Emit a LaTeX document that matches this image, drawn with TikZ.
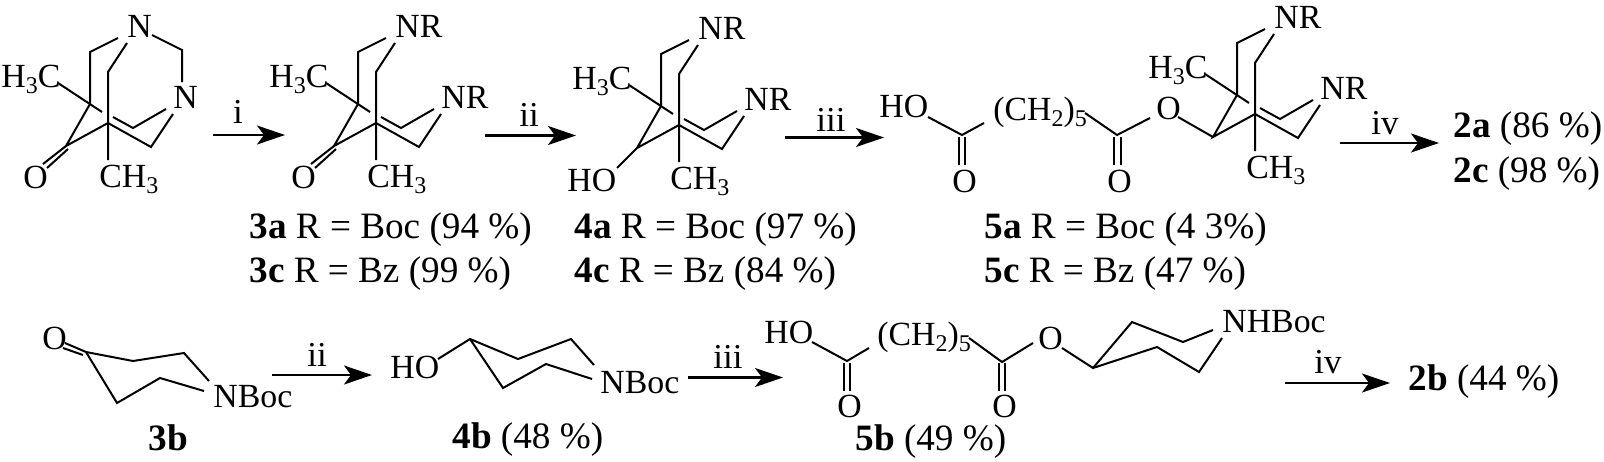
\documentclass[tikz,border=0pt]{standalone}
\usepackage{fontspec}
\setmainfont{Liberation Serif}
\usetikzlibrary{arrows.meta}
\usetikzlibrary{positioning}

\newcommand{\dn}[1]{\raisebox{-3pt}{\fontsize{12}{12}\selectfont #1}}

\tikzset{
  atom/.style={inner sep=0pt, anchor=base west, font=\fontsize{16.9}{20}\selectfont},
  reagent/.style={inner sep=0pt, anchor=base, font=\fontsize{17.5}{20}\selectfont},
  cmpd/.style={inner sep=0pt, anchor=base west, font=\fontsize{18.6}{22}\selectfont},
  bond/.style={line width=1pt, line join=miter},
  rxn/.style={line width=1.05pt, -{Stealth[length=14pt,width=9.5pt,inset=3.5pt]}}
}

\newcommand{\cagecore}[5]{
        \begin{scope}[shift={(#2,#3)}, name prefix=#1-]
        \node[atom] (top) at (37,-67) {#4};
        \node[atom] (right) at (83,4) {#5};
        \node[atom] (me1) at (-89,-17) {H\dn{3}C};
        \node[atom] (me2) at (9,83) {CH\dn{3}};
        \coordinate (b1) at (0,0);
        \coordinate (b2) at (18,19);
        \coordinate (k) at (-24,42);
        \coordinate (a1) at (28,-66);
        \coordinate (a2) at (0,-52);
        \coordinate (a3) at (37,-61);
        \coordinate (a4) at (18,-32);
        \coordinate (m1) at (-32,-21);
        \coordinate (m2) at (12,8);
        \coordinate (m3) at (18,56);
        \coordinate (e1) at (61,43);
        \coordinate (e2) at (83,10);
        \coordinate (g1) at (23,13);
        \coordinate (g2) at (43,24);
        \coordinate (g3) at (76,5);
        \draw[bond] (a1) -- (a2) -- (b1) -- (k) -- (b2) -- (e1) -- (e2);
        \draw[bond] (a3) -- (a4) -- (m3);
        \draw[bond] (m1) -- (m2);
        \draw[bond] (g1) -- (g2) -- (g3);
        \end{scope}
}

\begin{document}
\begin{tikzpicture}[x=0.5pt, y=-0.5pt]
        \useasboundingbox (0,0) rectangle (1604,461);

        \cagecore{c1}{90}{104}{N}{N}
        \node[atom] (o1) at (23,188) {O};
        \coordinate (w1) at (152,35);
        \coordinate (w2) at (182,50);
        \coordinate (w3) at (182,82);
        \coordinate (o1a) at (43,164);
        \coordinate (o1b) at (47,168);
        \coordinate (k1b) at (68,149);
        \draw[bond] (w1) -- (w2) -- (w3);
        \draw[bond] (c1-k) -- (o1a);
        \draw[bond] (k1b) -- (o1b);

        \coordinate (r1s) at (213,135);
        \coordinate (r1e) at (285,135);
        \path [rxn] (r1s) edge (r1e);
        \node[reagent] (l1) at (238,123) {i};

        \cagecore{c2}{358}{104}{NR}{NR}
        \node[atom] (o2) at (291,188) {O};
        \coordinate (o2a) at (311,164);
        \coordinate (o2b) at (315,168);
        \coordinate (k2b) at (336,149);
        \draw[bond] (c2-k) -- (o2a);
        \draw[bond] (k2b) -- (o2b);
        \node[cmpd] (t3a) at (249,238) {\textbf{3a} R = Boc (94 \%)};
        \node[cmpd] (t3c) at (249,282) {\textbf{3c} R = Bz (99 \%)};

        \coordinate (r2s) at (485,135.5);
        \coordinate (r2e) at (576,135.5);
        \path [rxn] (r2s) edge (r2e);
        \node[reagent] (l2) at (529,126) {ii};

        \cagecore{c3}{661}{106}{NR}{NR}
        \node[atom] (h3) at (567,191) {HO};
        \coordinate (h3a) at (617,168);
        \draw[bond] (c3-k) -- (h3a);
        \node[cmpd] (t4a) at (574,238) {\textbf{4a} R = Boc (97 \%)};
        \node[cmpd] (t4c) at (574,282) {\textbf{4c} R = Bz (84 \%)};

        \coordinate (r3s) at (785,137.5);
        \coordinate (r3e) at (884,137.5);
        \path [rxn] (r3s) edge (r3e);
        \node[reagent] (l3) at (831,131) {iii};

        \node[atom] (h5) at (879,117) {HO};
        \node[atom] (ch5) at (993,120) {(CH\dn{2})\dn{5}};
        \node[atom] (o5a) at (952,192) {O};
        \node[atom] (o5b) at (1107,192) {O};
        \node[atom] (o5c) at (1156,119) {O};
        \coordinate (p1) at (928,117);
        \coordinate (p2) at (962,135);
        \coordinate (p3) at (984,123);
        \coordinate (p4) at (1085,113);
        \coordinate (p5) at (1117,135);
        \coordinate (p6) at (1150,118);
        \coordinate (p7) at (1178,117);
        \coordinate (d1) at (958.5,137);
        \coordinate (d2) at (958.5,165);
        \coordinate (d3) at (965,137);
        \coordinate (d4) at (965,165);
        \coordinate (d5) at (1114,137);
        \coordinate (d6) at (1114,165);
        \coordinate (d7) at (1120.5,137);
        \coordinate (d8) at (1120.5,165);
        \draw[bond] (p1) -- (p2) -- (p3);
        \draw[bond] (p4) -- (p5) -- (p6);
        \draw[bond] (d1) -- (d2);
        \draw[bond] (d3) -- (d4);
        \draw[bond] (d5) -- (d6);
        \draw[bond] (d7) -- (d8);
        \cagecore{c5}{1237}{95}{NR}{NR}
        \draw[bond] (p7) -- (c5-k);
        \node[cmpd] (t5a) at (984,238) {\textbf{5a} R = Boc (4 3\%)};
        \node[cmpd] (t5c) at (984,282) {\textbf{5c} R = Bz (47 \%)};

        \coordinate (r4s) at (1340,143);
        \coordinate (r4e) at (1439,143);
        \path [rxn] (r4s) edge (r4e);
        \node[reagent] (l4) at (1385,134) {iv};
        \node[cmpd] (t2a) at (1453,137) {\textbf{2a} (86 \%)};
        \node[cmpd] (t2c) at (1453,182) {\textbf{2c} (98 \%)};

        \node[atom] (o6) at (42,349) {O};
        \node[atom] (boc6) at (213,407) {NBoc};
        \coordinate (q0) at (65,343);
        \coordinate (q1) at (86,352);
        \coordinate (q2) at (133,361);
        \coordinate (q3) at (184,353);
        \coordinate (q4) at (209,381);
        \coordinate (q5) at (117,403);
        \coordinate (q6) at (160,378);
        \coordinate (q7) at (204,391);
        \coordinate (q8) at (63,348);
        \coordinate (q9) at (83,355);
        \draw[bond] (q0) -- (q1) -- (q2) -- (q3) -- (q4);
        \draw[bond] (q1) -- (q5) -- (q6) -- (q7);
        \draw[bond] (q8) -- (q9);
        \node[cmpd] (t3b) at (148,450) {\textbf{3b}};

        \coordinate (r5s) at (272,375);
        \coordinate (r5e) at (372,375);
        \path [rxn] (r5s) edge (r5e);
        \node[reagent] (l5) at (317,366) {ii};

        \node[atom] (h7) at (390,378) {HO};
        \node[atom] (boc7) at (600,393) {NBoc};
        \coordinate (u0) at (438,359);
        \coordinate (u1) at (470,339);
        \coordinate (u2) at (518,359);
        \coordinate (u3) at (571,339);
        \coordinate (u4) at (594,365);
        \coordinate (u5) at (503,388);
        \coordinate (u6) at (546,364);
        \coordinate (u7) at (592,379);
        \draw[bond] (u0) -- (u1) -- (u2) -- (u3) -- (u4);
        \draw[bond] (u1) -- (u5) -- (u6) -- (u7);
        \node[cmpd] (t4b) at (452,448) {\textbf{4b} (48 \%)};

        \coordinate (r6s) at (688,377.5);
        \coordinate (r6e) at (783,377.5);
        \path [rxn] (r6s) edge (r6e);
        \node[reagent] (l6) at (728,368) {iii};

        \node[atom] (h8) at (764,343) {HO};
        \node[atom] (ch8) at (877,345) {(CH\dn{2})\dn{5}};
        \node[atom] (o8a) at (837,417) {O};
        \node[atom] (o8b) at (992,417) {O};
        \node[atom] (o8c) at (1038,349) {O};
        \node[atom] (nh8) at (1222,332) {NHBoc};
        \coordinate (s1) at (812,342);
        \coordinate (s2) at (847,361);
        \coordinate (s3) at (869,348);
        \coordinate (s4) at (969,338);
        \coordinate (s5) at (1002,362);
        \coordinate (s6) at (1033,343);
        \coordinate (s7) at (1062,348);
        \coordinate (s8) at (1093,368);
        \coordinate (f1) at (1132,322);
        \coordinate (f2) at (1183,342);
        \coordinate (f3) at (1213,330);
        \coordinate (f4) at (1157,347);
        \coordinate (f5) at (1199,372);
        \coordinate (f6) at (1222,338);
        \coordinate (v1) at (844,363);
        \coordinate (v2) at (844,391);
        \coordinate (v3) at (850,363);
        \coordinate (v4) at (850,391);
        \coordinate (v5) at (999,363);
        \coordinate (v6) at (999,391);
        \coordinate (v7) at (1005,363);
        \coordinate (v8) at (1005,391);
        \draw[bond] (s1) -- (s2) -- (s3);
        \draw[bond] (s4) -- (s5) -- (s6);
        \draw[bond] (s7) -- (s8) -- (f1) -- (f2) -- (f3);
        \draw[bond] (s8) -- (f4) -- (f5) -- (f6);
        \draw[bond] (v1) -- (v2);
        \draw[bond] (v3) -- (v4);
        \draw[bond] (v5) -- (v6);
        \draw[bond] (v7) -- (v8);
        \node[cmpd] (t5b) at (855,450) {\textbf{5b} (49 \%)};

        \coordinate (r7s) at (1285,383);
        \coordinate (r7e) at (1390,383);
        \path [rxn] (r7s) edge (r7e);
        \node[reagent] (l7) at (1328,373) {iv};
        \node[cmpd] (t2b) at (1408,390) {\textbf{2b} (44 \%)};
\end{tikzpicture}
\end{document}
